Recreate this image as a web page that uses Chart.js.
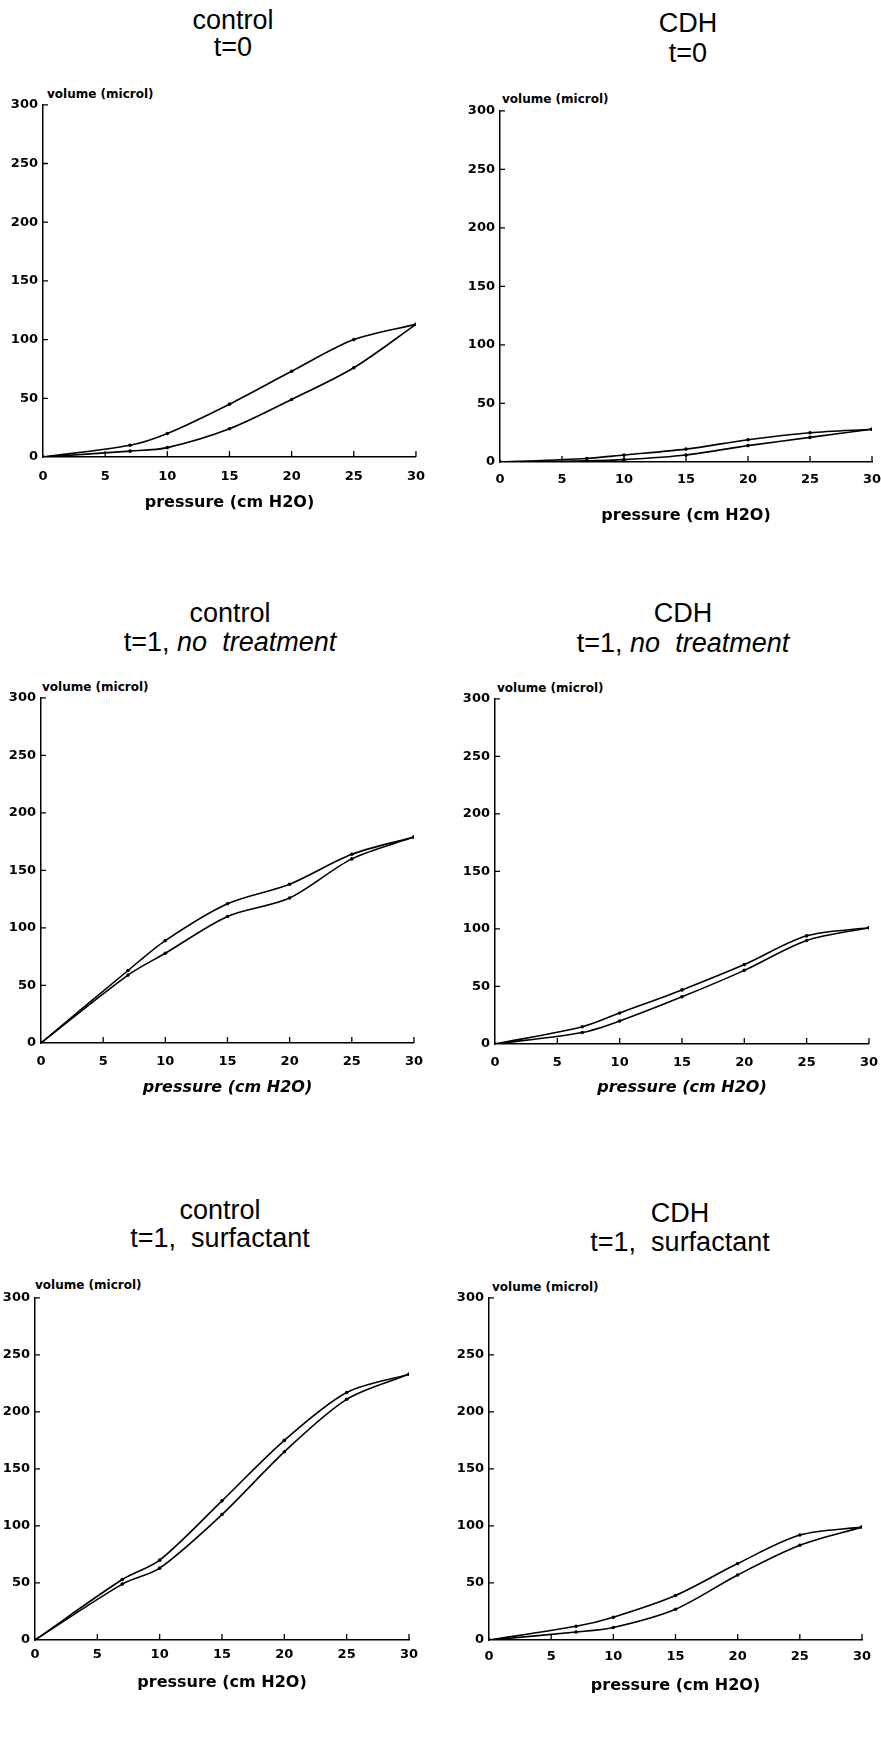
<!DOCTYPE html>
<html>
<head>
<meta charset="utf-8">
<script src="https://cdn.jsdelivr.net/npm/chart.js@4.4.1/dist/chart.umd.min.js"></script>
<style>
    body { margin: 0; background: #fff; }
    #page { position: relative; width: 881px; height: 1755px; overflow: hidden; }
    .ttl { position: absolute; font-family: "Liberation Sans", Arial, sans-serif; font-size: 27px; color: #000; white-space: nowrap; transform: translate(-50%, -50%); }
    .vol { position: absolute; font-family: "DejaVu Sans", sans-serif; font-weight: bold; font-size: 12px; color: #000; white-space: nowrap; transform: translateY(-50%); }
    canvas { position: absolute; }
</style>
</head>
<body>
<div id="page"></div>
<script>
// pressure steps (cm H2O) used for every curve
const pressure = [0, 7, 10, 15, 20, 25, 30];
const xTicks = [0, 5, 10, 15, 20, 25, 30];
const yTicks = [0, 50, 100, 150, 200, 250, 300];

// volumes (microl): inflation = lower limb, deflation = upper limb
const controlT0Inflation = [0, 5, 8, 24, 49, 76, 113];
const controlT0Deflation = [0, 10, 20, 45, 73, 100, 113];

const cdhT0Inflation = [0, 1, 2, 6, 14, 21, 28];
const cdhT0Deflation = [0, 3, 6, 11, 19, 25, 28];

const controlT1Inflation = [0, 59, 78, 110, 126, 160, 179];
const controlT1Deflation = [0, 63, 89, 121, 138, 164, 179];

const cdhT1Inflation = [0, 10, 20, 41, 64, 90, 101];
const cdhT1Deflation = [0, 15, 27, 47, 69, 94, 101];

const controlSurfInflation = [0, 49, 63, 110, 165, 211, 233];
const controlSurfDeflation = [0, 53, 70, 122, 175, 217, 233];

const cdhSurfInflation = [0, 7, 11, 27, 57, 83, 99];
const cdhSurfDeflation = [0, 12, 20, 39, 67, 92, 99];

const titles = [
    ['control', 't=0'],
    ['CDH', 't=0'],
    ['control', 't=1, <i>no&nbsp; treatment</i>'],
    ['CDH', 't=1, <i>no&nbsp; treatment</i>'],
    ['control', 't=1,&nbsp; surfactant'],
    ['CDH', 't=1,&nbsp; surfactant']
];
const series = [
    [controlT0Inflation, controlT0Deflation],
    [cdhT0Inflation, cdhT0Deflation],
    [controlT1Inflation, controlT1Deflation],
    [cdhT1Inflation, cdhT1Deflation],
    [controlSurfInflation, controlSurfDeflation],
    [cdhSurfInflation, cdhSurfDeflation]
];

// plot box for each panel (page px): L,T,R,B + title / label placement
const layouts = [
    { L: 43, T: 104, R: 417, B: 457, cx: 233, t1: 20, t2: 47, volX: 47, volY: 94, tickOff: 20, titleOff: 45, italic: false },
    { L: 500, T: 110, R: 872, B: 462, cx: 688, t1: 23, t2: 53, volX: 502, volY: 99, tickOff: 18, titleOff: 53, italic: false },
    { L: 41, T: 697, R: 414, B: 1043, cx: 230, t1: 613, t2: 642, volX: 42, volY: 687, tickOff: 19, titleOff: 44, italic: true },
    { L: 495, T: 698, R: 869, B: 1044, cx: 683, t1: 613, t2: 643, volX: 497, volY: 688, tickOff: 19, titleOff: 43, italic: true },
    { L: 35, T: 1297, R: 409, B: 1640, cx: 220, t1: 1210, t2: 1238, volX: 35, volY: 1285, tickOff: 15, titleOff: 42, italic: false },
    { L: 489, T: 1297, R: 862, B: 1640, cx: 680, t1: 1213, t2: 1242, volX: 492, volY: 1287, tickOff: 17, titleOff: 45, italic: false }
];

const Y_W = 50, PAD_T = 12, PAD_R = 20;

// small inward tick marks like the original plots
const innerTicks = {
    id: 'innerTicks',
    afterDraw(chart) {
        const { ctx, chartArea, scales } = chart;
        ctx.save();
        ctx.strokeStyle = '#000';
        ctx.lineWidth = 1.3;
        ctx.beginPath();
        yTicks.forEach(v => {
            if (v === 0) return;
            const y = scales.y.getPixelForValue(v);
            ctx.moveTo(chartArea.left, y);
            ctx.lineTo(chartArea.left + 5, y);
        });
        xTicks.forEach(v => {
            if (v === 0) return;
            const x = scales.x.getPixelForValue(v);
            ctx.moveTo(x, chartArea.bottom);
            ctx.lineTo(x, chartArea.bottom - 6);
        });
        ctx.stroke();
        ctx.restore();
    }
};

function toPoints(values) {
    return values.map((v, i) => ({ x: pressure[i], y: v }));
}

function buildPanel(i) {
    const lay = layouts[i];
    const page = document.getElementById('page');

    titles[i].forEach((t, k) => {
        const d = document.createElement('div');
        d.className = 'ttl';
        d.style.left = lay.cx + 'px';
        d.style.top = (k === 0 ? lay.t1 : lay.t2) + 'px';
        d.innerHTML = t;
        page.appendChild(d);
    });

    const vol = document.createElement('div');
    vol.className = 'vol';
    vol.style.left = lay.volX + 'px';
    vol.style.top = lay.volY + 'px';
    vol.textContent = 'volume (microl)';
    page.appendChild(vol);

    const xh = lay.titleOff + 12;
    const w = (lay.R - lay.L) + Y_W + PAD_R;
    const h = (lay.B - lay.T) + PAD_T + xh;
    const canvas = document.createElement('canvas');
    canvas.style.left = (lay.L - Y_W) + 'px';
    canvas.style.top = (lay.T - PAD_T) + 'px';
    canvas.style.width = w + 'px';
    canvas.style.height = h + 'px';
    canvas.width = w;
    canvas.height = h;
    page.appendChild(canvas);

    const tickFont = { family: '"DejaVu Sans", sans-serif', weight: 'bold', size: 13 };
    const [infl, defl] = series[i];

    new Chart(canvas.getContext('2d'), {
        type: 'line',
        data: {
            datasets: [infl, defl].map((vals, k) => ({
                label: k === 0 ? 'inflation' : 'deflation',
                data: toPoints(vals),
                borderColor: '#000',
                backgroundColor: '#000',
                borderWidth: 1.6,
                pointRadius: 1.8,
                pointBorderWidth: 0,
                fill: false,
                tension: 0.3
            }))
        },
        options: {
            responsive: false,
            animation: false,
            events: [],
            layout: { padding: { top: PAD_T, right: PAD_R, left: 0, bottom: 0 } },
            plugins: { legend: { display: false }, tooltip: { enabled: false } },
            scales: {
                x: {
                    type: 'linear',
                    min: 0,
                    max: 30,
                    afterBuildTicks: s => { s.ticks = xTicks.map(v => ({ value: v })); },
                    afterFit: s => { s.height = xh; },
                    ticks: { color: '#000', font: tickFont, padding: lay.tickOff - 8, maxRotation: 0 },
                    grid: { drawOnChartArea: false, drawTicks: false },
                    border: { color: '#000', width: 1.5 },
                    title: {
                        display: true,
                        text: 'pressure (cm H2O)',
                        color: '#000',
                        font: { family: '"DejaVu Sans", sans-serif', weight: 'bold', size: 16, style: lay.italic ? 'italic' : 'normal' },
                        padding: { top: 0, bottom: 2 }
                    }
                },
                y: {
                    type: 'linear',
                    min: 0,
                    max: 300,
                    afterBuildTicks: s => { s.ticks = yTicks.map(v => ({ value: v })); },
                    afterFit: s => { s.width = Y_W; },
                    ticks: { color: '#000', font: tickFont, padding: 5 },
                    grid: { drawOnChartArea: false, drawTicks: false },
                    border: { color: '#000', width: 1.5 }
                }
            }
        },
        plugins: [innerTicks]
    });
}

document.addEventListener('DOMContentLoaded', () => {
    layouts.forEach((_, i) => buildPanel(i));
});
</script>
</body>
</html>
